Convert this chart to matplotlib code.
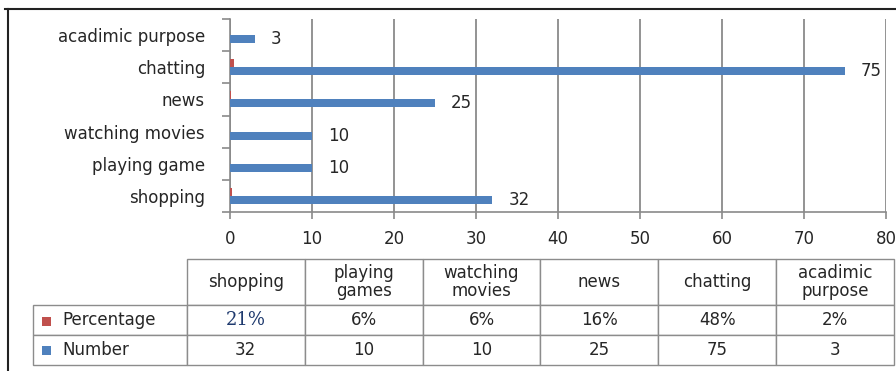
import matplotlib
matplotlib.use("Agg")
import matplotlib.pyplot as plt
from matplotlib.patches import Rectangle
from matplotlib.lines import Line2D
import numpy as np

# ---- data ----
categories = ["shopping", "playing game", "watching movies", "news", "chatting", "acadimic purpose"]
table_headers = ["shopping", "playing\ngames", "watching\nmovies", "news", "chatting", "acadimic\npurpose"]
number = [32, 10, 10, 25, 75, 3]
percentage = [0.21, 0.06, 0.06, 0.16, 0.48, 0.02]
percentage_labels = ["21%", "6%", "6%", "16%", "48%", "2%"]
xticks = [0, 10, 20, 30, 40, 50, 60, 70, 80]

W, H = 896, 371
BLUE = "#4F81BD"
RED = "#C0504D"
TXT = "#262626"
GRID = "#8a8a8a"
FS = 12

plt.rcParams["font.family"] = ["DejaVu Sans"]
fig = plt.figure(figsize=(W / 100, H / 100), dpi=100)

def px(x0, y0, x1, y1):
    return [x0 / W, 1 - y1 / H, (x1 - x0) / W, (y1 - y0) / H]

# ---- bar axes ----
ax = fig.add_axes(px(230, 19, 886, 212))
y = np.arange(len(categories))
h = 0.25
ax.barh(y + h / 2, percentage, height=h, color=RED, zorder=3)
bars = ax.barh(y - h / 2, number, height=h, color=BLUE, zorder=3)
for b, v in zip(bars, number):
    ax.annotate(str(v), (b.get_width(), b.get_y() + b.get_height() / 2),
                xytext=(11.5, 0), textcoords="offset points", va="center", ha="left",
                fontsize=FS, color=TXT, zorder=5)

ax.set_xlim(0, 80)
ax.set_ylim(-0.5, len(categories) - 0.5)
ax.set_xticks(xticks)
ax.set_xticklabels([str(t) for t in xticks], fontsize=FS, color=TXT)
ax.set_yticks(y)
ax.set_yticklabels(categories, fontsize=FS, color=TXT)
ax.set_yticks(np.arange(len(categories) + 1) - 0.5, minor=True)
ax.tick_params(axis="y", which="major", length=0, pad=18)
ax.tick_params(axis="y", which="minor", length=6, color=GRID, width=1.2)
ax.tick_params(axis="x", which="major", length=5, color=GRID, width=1.2, pad=8)
ax.grid(axis="x", color=GRID, linewidth=1.3, zorder=0)
for side in ["top", "right"]:
    ax.spines[side].set_visible(False)
for side in ["left", "bottom"]:
    ax.spines[side].set_color(GRID)
    ax.spines[side].set_linewidth(1.2)
ax.set_facecolor("none")

# ---- data table ----
tax = fig.add_axes(px(33, 259, 894, 365))
tax.axis("off")
cell_text = [["Percentage"] + percentage_labels,
             ["Number"] + [str(v) for v in number]]
col_labels = [""] + table_headers
tbl = tax.table(cellText=cell_text, colLabels=col_labels, bbox=[0, 0, 1, 1],
                cellLoc="center")
tbl.auto_set_font_size(False)
col_w = [154] + [118] * len(categories)
row_h = [46, 31, 30]
for (r, c), cell in tbl.get_celld().items():
    cell.set_width(col_w[c])
    cell.set_height(row_h[r])
    cell.set_edgecolor("#8c8c8c")
    cell.set_linewidth(1.0)
    cell.get_text().set_fontsize(FS)
    cell.get_text().set_color(TXT)
    cell.get_text().set_linespacing(1.0)
    if r == 0 and c == 0:
        cell.visible_edges = ""
    if c == 0 and r > 0:
        cell.get_text().set_ha("left")
        cell.PAD = 0.19
    if r == 1 and c == 1:
        cell.get_text().set_fontfamily("DejaVu Serif")
        cell.get_text().set_color("#1f3a6e")
        cell.get_text().set_fontsize(13)

# legend keys in the table
for yy, col in [(321, RED), (350, BLUE)]:
    fig.patches.append(Rectangle((42 / W, 1 - (yy + 4.5) / H), 9 / W, 9 / H,
                                 transform=fig.transFigure, facecolor=col,
                                 edgecolor="none"))

# ---- outer frame ----
fig.lines.append(Line2D([5 / W, 1], [1 - 9 / H, 1 - 9 / H], transform=fig.transFigure,
                        color="#222222", linewidth=1.5))
fig.lines.append(Line2D([8 / W, 8 / W], [0, 1 - 9 / H], transform=fig.transFigure,
                        color="#222222", linewidth=1.5))

fig.savefig("out.png", dpi=100)
